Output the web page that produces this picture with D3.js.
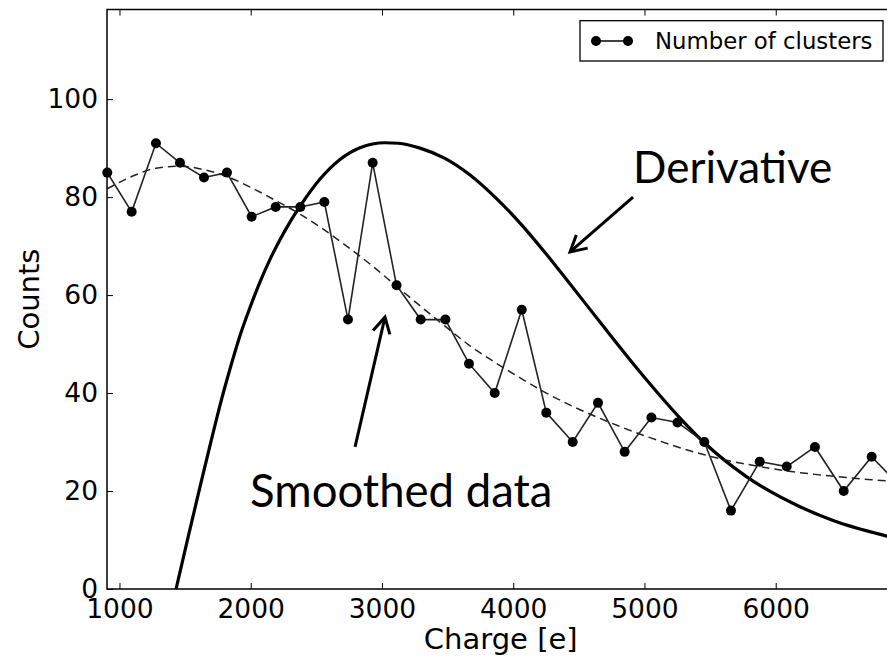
<!DOCTYPE html>
<html><head><meta charset="utf-8">
<script src="https://cdn.jsdelivr.net/npm/d3@7"></script>
<style>body{margin:0;background:#fff;} svg{display:block;}</style>
</head><body>
<script>
// ---- data ----
const charge = [907, 1093, 1278, 1461, 1644, 1819, 2007, 2190, 2378, 2561, 2741, 2929, 3111, 3295, 3483, 3663, 3859, 4065, 4252, 4453, 4646, 4849, 5053, 5252, 5456, 5659, 5878, 6084, 6299, 6518, 6731, 6947];
const counts = [85, 77, 91, 87, 84, 85, 76, 78, 78, 79, 55, 87, 62, 55, 55, 46, 40, 57, 36, 30, 38, 28, 35, 34, 30, 16, 26, 25, 29, 20, 27, 21];
const smoothed = [81.7, 84.2, 85.9, 86.3, 85.6, 84.2, 81.9, 79.3, 76.5, 73.3, 69.8, 65.9, 61.8, 57.7, 53.6, 49.8, 46.3, 42.9, 40.0, 37.3, 35.0, 32.8, 30.8, 29.0, 27.4, 26.1, 25.0, 24.1, 23.4, 22.8, 22.3, 21.9];
const derivCharge = [1385, 1431, 1522, 1614, 1690, 1766, 1842, 1918, 1995, 2071, 2147, 2223, 2299, 2375, 2528, 2680, 2833, 3023, 3124, 3290, 3480, 3671, 3861, 4052, 4242, 4432, 4661, 4966, 5271, 5454, 5774, 6185, 6437, 6848, 7099];
const derivValue = [-5.3, 0, 10.5, 20.9, 29.3, 37.5, 44.9, 51.7, 57.5, 62.7, 67.3, 71.3, 74.9, 78.1, 83.7, 87.7, 90.1, 91.1, 91.0, 90.0, 87.9, 84.5, 80.0, 74.7, 68.7, 62.3, 54.5, 44.3, 34.9, 29.9, 23.0, 16.8, 14.0, 10.8, 9.2];
const xTicks = [1000, 2000, 3000, 4000, 5000, 6000];
const yTicks = [0, 20, 40, 60, 80, 100];
const xDomain = [905, 6905];
const yDomain = [0, 118.3];
const xLabel = "Charge [e]";
const yLabel = "Counts";
const legendLabel = "Number of clusters";
// annotations in data coordinates: [charge, value]
const derivText = {text: "Derivative", at: [4913, 82.9], tail: [4913, 80.0], head: [4433, 68.8]};
const smoothText = {text: "Smoothed data", at: [1995, 16.8], tail: [2795, 29.0], head: [3023, 55.5]};

// ---- layout ----
const W = 887, H = 662;
const L = 107, R = 894.5, T = 9.5, B = 589;
const x = d3.scaleLinear(xDomain, [L, R]);
const y = d3.scaleLinear(yDomain, [B, T]);
const tickFont = "DejaVu Sans, sans-serif";

const svg = d3.select("body").append("svg").attr("width", W).attr("height", H)
  .attr("viewBox", `0 0 ${W} ${H}`);
svg.append("rect").attr("width", W).attr("height", H).attr("fill", "#fff");

svg.append("clipPath").attr("id", "clip").append("rect")
  .attr("x", L).attr("y", T).attr("width", R - L).attr("height", B - T);

const plot = svg.append("g").attr("clip-path", "url(#clip)");

// derivative
plot.append("path")
  .datum(derivCharge.map((c, i) => [c, derivValue[i]]))
  .attr("d", d3.line().x(d => x(d[0])).y(d => y(d[1])).curve(d3.curveMonotoneX))
  .attr("fill", "none").attr("stroke", "#000").attr("stroke-width", 3.2)
  .attr("stroke-linejoin", "round");

// smoothed (dashed)
plot.append("path")
  .datum(charge.map((c, i) => [c, smoothed[i]]))
  .attr("d", d3.line().x(d => x(d[0])).y(d => y(d[1])).curve(d3.curveMonotoneX))
  .attr("fill", "none").attr("stroke", "#222").attr("stroke-width", 1.5)
  .attr("stroke-dasharray", "8,5");

// data line
plot.append("path")
  .datum(charge.map((c, i) => [c, counts[i]]))
  .attr("d", d3.line().x(d => x(d[0])).y(d => y(d[1])))
  .attr("fill", "none").attr("stroke", "#222").attr("stroke-width", 1.6);

// markers
svg.append("g").selectAll("circle")
  .data(charge.map((c, i) => [c, counts[i]]).filter(d => d[0] <= xDomain[1]))
  .join("circle")
  .attr("cx", d => x(d[0])).attr("cy", d => y(d[1])).attr("r", 5)
  .attr("fill", "#000");

// axes
const axB = svg.append("g").attr("transform", `translate(0,${B})`)
  .call(d3.axisBottom(x).tickValues(xTicks).tickFormat(d3.format("d")).tickSizeInner(-6).tickSizeOuter(0).tickPadding(10.5));
const axT = svg.append("g").attr("transform", `translate(0,${T})`)
  .call(d3.axisTop(x).tickValues(xTicks).tickFormat("").tickSizeInner(-6).tickSizeOuter(0));
const axL = svg.append("g").attr("transform", `translate(${L},0)`)
  .call(d3.axisLeft(y).tickValues(yTicks).tickFormat(d3.format("d")).tickSizeInner(-6).tickSizeOuter(0).tickPadding(9));
[axB, axT, axL].forEach(g => {
  g.select(".domain").remove();
  g.selectAll(".tick line").attr("stroke", "#000").attr("stroke-width", 1);
  g.selectAll("text").attr("font-family", tickFont).attr("font-size", 26.5).attr("fill", "#000");
});

// frame
svg.append("rect").attr("x", L).attr("y", T).attr("width", R - L).attr("height", B - T)
  .attr("fill", "none").attr("stroke", "#000").attr("stroke-width", 1.5);

// axis labels
svg.append("text").attr("x", (L + R) / 2).attr("y", 649).attr("text-anchor", "middle")
  .attr("font-family", tickFont).attr("font-size", 29).text(xLabel);
svg.append("text").attr("transform", `translate(39,${(T + B) / 2}) rotate(-90)`).attr("text-anchor", "middle")
  .attr("font-family", tickFont).attr("font-size", 29).text(yLabel);

// legend
const lg = svg.append("g");
lg.append("rect").attr("x", 580).attr("y", 20.7).attr("width", 303).attr("height", 40.3)
  .attr("fill", "#fff").attr("stroke", "#000").attr("stroke-width", 1.3);
lg.append("line").attr("x1", 596).attr("x2", 628).attr("y1", 41).attr("y2", 41)
  .attr("stroke", "#000").attr("stroke-width", 1.5);
[596, 628].forEach(cx => lg.append("circle").attr("cx", cx).attr("cy", 41).attr("r", 5).attr("fill", "#000"));
lg.append("text").attr("x", 655).attr("y", 49).attr("font-family", tickFont).attr("font-size", 22.8)
  .attr("fill", "#000").text(legendLabel);

// annotations
function arrow(a) {
  const [x1, y1] = [x(a.tail[0]), y(a.tail[1])];
  const [x2, y2] = [x(a.head[0]), y(a.head[1])];
  svg.append("line").attr("x1", x1).attr("y1", y1).attr("x2", x2).attr("y2", y2)
    .attr("stroke", "#000").attr("stroke-width", 3);
  const ang = Math.atan2(y1 - y2, x1 - x2), len = 18, spread = 0.5;
  const p = d3.path();
  p.moveTo(x2 + len * Math.cos(ang - spread), y2 + len * Math.sin(ang - spread));
  p.lineTo(x2, y2);
  p.lineTo(x2 + len * Math.cos(ang + spread), y2 + len * Math.sin(ang + spread));
  svg.append("path").attr("d", p.toString()).attr("fill", "none").attr("stroke", "#000")
    .attr("stroke-width", 3).attr("stroke-linejoin", "miter");
}
arrow(derivText);
arrow(smoothText);
svg.append("text").attr("x", x(derivText.at[0])).attr("y", y(derivText.at[1]))
  .attr("font-family", "Lato, Carlito, sans-serif").attr("font-size", 44).attr("fill", "#000").text(derivText.text);
svg.append("text").attr("x", x(smoothText.at[0])).attr("y", y(smoothText.at[1]))
  .attr("font-family", "Lato, Carlito, sans-serif").attr("font-size", 45.5).attr("fill", "#000").text(smoothText.text);
</script>
</body></html>
